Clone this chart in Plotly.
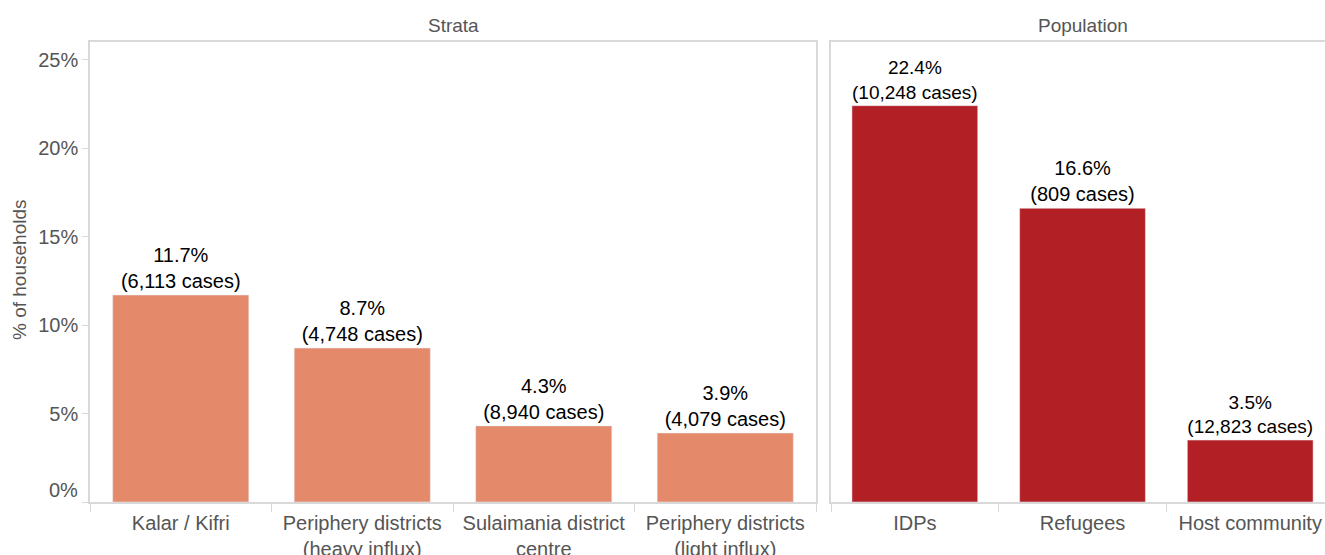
import plotly.graph_objects as go

strata_cats = ["Kalar / Kifri", "Periphery districts<br>(heavy influx)",
               "Sulaimania district<br>centre", "Periphery districts<br>(light influx)"]
strata_pct = [11.7, 8.7, 4.3, 3.9]
strata_cases = ["6,113", "4,748", "8,940", "4,079"]

pop_cats = ["IDPs", "Refugees", "Host community"]
pop_pct = [22.4, 16.6, 3.5]
pop_cases = ["10,248", "809", "12,823"]

y_ticks = [0, 5, 10, 15, 20, 25]

W, H = 1325, 555
T, B = 42, 53
FONT = "Liberation Sans, Arial, sans-serif"
GRAY = "#555555"
LINE = "#d9d9d9"

def px(x):
    return x / W

def py(y):
    return (H - B - y) / (H - T - B)

def lbl(p, c):
    return [f"{a:.1f}%<br>({b} cases)" for a, b in zip(p, c)]

fig = go.Figure()
fig.add_trace(go.Bar(x=strata_cats, y=strata_pct, text=lbl(strata_pct, strata_cases),
                     textposition="outside", marker_color="#E48A6B", xaxis="x", yaxis="y",
                     textfont=dict(color="black", size=20, family=FONT), cliponaxis=False,
                     hoverinfo="skip"))
fig.add_trace(go.Bar(x=pop_cats, y=pop_pct, text=lbl(pop_pct, pop_cases),
                     textposition="outside", marker_color="#B21F25", xaxis="x2", yaxis="y2",
                     textfont=dict(color="black", size=20, family=FONT), cliponaxis=False,
                     hoverinfo="skip"))

axcommon = dict(showgrid=False, zeroline=False, showline=True, linecolor=LINE, linewidth=1.5,
                ticks="outside", tickcolor=LINE, ticklen=8, tickson="boundaries",
                ticklabelstandoff=2, automargin=False,
                tickfont=dict(color=GRAY, size=20, family=FONT), fixedrange=True)

# the 0% label sits slightly above its tick (drawn as an annotation below)
ytext = ["" if v == 0 else f"{v}%" for v in y_ticks]

fig.update_layout(
    width=W, height=H,
    margin=dict(l=0, r=0, t=T, b=B, autoexpand=False),
    plot_bgcolor="white", paper_bgcolor="white",
    showlegend=False, bargap=0.25,
    font=dict(family=FONT),
    xaxis=dict(domain=[px(90), px(816)], mirror=True, range=[-0.5, 3.5], **axcommon),
    xaxis2=dict(domain=[px(831), 1.0], mirror=True, range=[-0.5, 2.446], **axcommon),
    yaxis=dict(range=[0, 26], tickvals=y_ticks, ticktext=ytext,
               showgrid=False, zeroline=False, showline=True, mirror=True, linecolor=LINE,
               linewidth=1.5, ticks="outside", tickcolor=LINE, ticklen=6, automargin=False,
               tickfont=dict(color=GRAY, size=20, family=FONT), anchor="x", fixedrange=True),
    yaxis2=dict(range=[0, 26], showticklabels=False, showgrid=False, zeroline=False,
                showline=True, linecolor=LINE, linewidth=1.5, anchor="x2", fixedrange=True,
                automargin=False),
    annotations=[
        dict(text="Strata", x=px(453), y=py(26), xref="paper", yref="paper",
             xanchor="center", yanchor="middle",
             showarrow=False, font=dict(color=GRAY, size=19, family=FONT)),
        dict(text="Population", x=px(1083), y=py(26), xref="paper", yref="paper",
             xanchor="center", yanchor="middle",
             showarrow=False, font=dict(color=GRAY, size=19, family=FONT)),
        dict(text="% of households", x=px(19), y=py(270), xref="paper", yref="paper",
             xanchor="center", yanchor="middle",
             textangle=-90, showarrow=False, font=dict(color=GRAY, size=19, family=FONT)),
        dict(text=f"{y_ticks[0]}%", x=px(80), y=py(490), xref="paper", yref="paper",
             xanchor="right", yanchor="middle", showarrow=False,
             font=dict(color=GRAY, size=20, family=FONT)),
    ],
)

# remove the default page margin / scrollbars so the figure fills the window exactly
fig.write_html("out.html",
               config={"displayModeBar": False},
               post_script="document.body.style.margin='0';"
                           "document.body.style.overflow='hidden';"
                           "document.documentElement.style.overflow='hidden';")
